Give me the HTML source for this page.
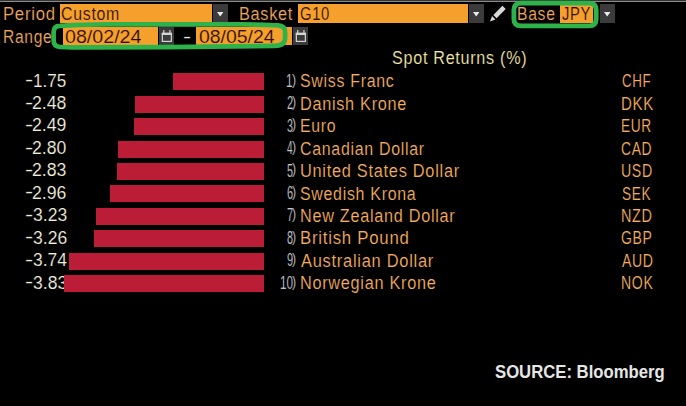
<!DOCTYPE html>
<html><head><meta charset="utf-8"><style>
html,body{margin:0;padding:0;background:#000;}
body{width:686px;height:406px;position:relative;overflow:hidden;font-family:"Liberation Sans",Arial,sans-serif;}
.t{position:absolute;white-space:nowrap;transform-origin:0 0;}
.r{position:absolute;}
</style></head><body>
<div class="r" style="left:0px;top:0px;width:686px;height:1px;background:#363636;"></div>
<div class="r" style="left:0px;top:1px;width:686px;height:1px;background:#8a8a8a;"></div>
<div class="r" style="left:60px;top:4px;width:152px;height:19.4px;background:#f5a02c;"></div>
<div class="r" style="left:213px;top:4px;width:15px;height:19.4px;background:#3b3b3b;"></div>
<svg class="r" style="left:213px;top:4px" width="15" height="19.4"><polygon points="4.0,7.9 10.4,7.9 7.2,12.4" fill="#ececec"/></svg>
<div class="r" style="left:298px;top:4px;width:170px;height:19.4px;background:#f5a02c;"></div>
<div class="r" style="left:469px;top:4px;width:15px;height:19.4px;background:#3b3b3b;"></div>
<svg class="r" style="left:469px;top:4px" width="15" height="19.4"><polygon points="4.0,7.9 10.4,7.9 7.2,12.4" fill="#ececec"/></svg>
<svg class="r" style="left:486px;top:2px" width="24" height="24"><g transform="translate(4,19.5) rotate(-45)"><polygon points="0,0 5.3,-2.4 5.3,2.4" fill="#d8d8d8"/><rect x="7" y="-2.3" width="12.9" height="4.6" fill="#d8d8d8"/></g></svg>
<div class="r" style="left:559.5px;top:5px;width:33.5px;height:18px;background:#f5a02c;"></div>
<div class="r" style="left:600px;top:4px;width:15px;height:19.4px;background:#3b3b3b;"></div>
<svg class="r" style="left:600px;top:4px" width="15" height="19.4"><polygon points="4.0,7.9 10.4,7.9 7.2,12.4" fill="#ececec"/></svg>
<div class="r" style="left:63px;top:27.1px;width:95.4px;height:18.4px;background:#f5a02c;"></div>
<div class="r" style="left:159.4px;top:27px;width:14.5px;height:18.3px;background:#3b3b3b;"></div>
<svg class="r" style="left:159.4px;top:27px" width="14.5" height="18.3"><rect x="3.3500000000000005" y="6.4" width="9" height="8" fill="none" stroke="#d4d4d4" stroke-width="1.2"/><rect x="2.7500000000000004" y="5.8" width="10.2" height="2.2" fill="#d4d4d4"/><rect x="4.15" y="3" width="1.2" height="3.4" fill="#d4d4d4"/><rect x="10.35" y="3" width="1.2" height="3.4" fill="#d4d4d4"/></svg>
<div class="r" style="left:196px;top:27.1px;width:95.8px;height:18.4px;background:#f5a02c;"></div>
<div class="r" style="left:293px;top:27px;width:14.5px;height:18.3px;background:#3b3b3b;"></div>
<svg class="r" style="left:293px;top:27px" width="14.5" height="18.3"><rect x="3.3500000000000005" y="6.4" width="9" height="8" fill="none" stroke="#d4d4d4" stroke-width="1.2"/><rect x="2.7500000000000004" y="5.8" width="10.2" height="2.2" fill="#d4d4d4"/><rect x="4.15" y="3" width="1.2" height="3.4" fill="#d4d4d4"/><rect x="10.35" y="3" width="1.2" height="3.4" fill="#d4d4d4"/></svg>
<div class="t" style="left:2.86px;top:5.46px;font-size:18px;line-height:18px;color:#f0a75c;letter-spacing:0.8px;transform:scaleX(0.927);-webkit-text-stroke:0.15px #000;paint-order:normal;">Period</div>
<div class="t" style="left:61.21px;top:5.46px;font-size:18px;line-height:18px;color:#2d0f00;letter-spacing:0.8px;transform:scaleX(0.883);-webkit-text-stroke:0.15px #f5a02c;paint-order:normal;">Custom</div>
<div class="t" style="left:239.39px;top:5.46px;font-size:18px;line-height:18px;color:#f0a75c;letter-spacing:0.8px;transform:scaleX(0.904);-webkit-text-stroke:0.15px #000;paint-order:normal;">Basket</div>
<div class="t" style="left:299.86px;top:5.46px;font-size:18px;line-height:18px;color:#2d0f00;letter-spacing:0.8px;transform:scaleX(0.824);-webkit-text-stroke:0.15px #f5a02c;paint-order:normal;">G10</div>
<div class="t" style="left:516.83px;top:5.46px;font-size:18px;line-height:18px;color:#f0a75c;letter-spacing:0.8px;transform:scaleX(0.872);-webkit-text-stroke:0.15px #000;paint-order:normal;">Base</div>
<div class="t" style="left:561.75px;top:5.46px;font-size:18px;line-height:18px;color:#2d0f00;letter-spacing:0.8px;transform:scaleX(0.817);-webkit-text-stroke:0.15px #f5a02c;paint-order:normal;">JPY</div>
<div class="t" style="left:2.64px;top:28.46px;font-size:18px;line-height:18px;color:#f0a75c;letter-spacing:0.8px;transform:scaleX(0.867);-webkit-text-stroke:0.15px #000;paint-order:normal;">Range</div>
<div class="t" style="left:65.04px;top:28.46px;font-size:18px;line-height:18px;color:#2d0f00;transform:scaleX(1.091);-webkit-text-stroke:0.15px #f5a02c;paint-order:normal;">08/02/24</div>
<div class="t" style="left:198.84px;top:28.46px;font-size:18px;line-height:18px;color:#2d0f00;transform:scaleX(1.079);-webkit-text-stroke:0.15px #f5a02c;paint-order:normal;">08/05/24</div>
<div class="t" style="left:182.91px;top:28.36px;font-size:18px;line-height:18px;color:#e8e2e0;transform:scaleX(1.364);-webkit-text-stroke:0.15px #000;paint-order:normal;">-</div>
<div class="t" style="left:392.08px;top:49.26px;font-size:18px;line-height:18px;color:#f2e7a8;letter-spacing:0.8px;transform:scaleX(0.897);-webkit-text-stroke:0.15px #000;paint-order:normal;">Spot Returns (%)</div>
<div class="t" style="left:24.81px;top:71.16px;font-size:18px;line-height:18px;color:#f2eedc;transform:scaleX(1.364);-webkit-text-stroke:0.15px #000;paint-order:normal;">-</div>
<div class="t" style="left:33.42px;top:71.56px;font-size:18px;line-height:18px;color:#f2eedc;transform:scaleX(0.951);-webkit-text-stroke:0.15px #000;paint-order:normal;">1.75</div>
<div class="t" style="left:286.32px;top:71.76px;font-size:18px;line-height:18px;color:#c2c5cd;transform:scaleX(0.654);-webkit-text-stroke:0.15px #000;paint-order:normal;">1</div>
<div class="t" style="left:291.91px;top:72.53px;font-size:14.5px;line-height:14.5px;color:#c2c5cd;transform:scaleX(0.857);-webkit-text-stroke:0.15px #000;paint-order:normal;">)</div>
<div class="t" style="left:300.39px;top:72.26px;font-size:18px;line-height:18px;color:#f6ae5e;letter-spacing:0.8px;transform:scaleX(0.885);-webkit-text-stroke:0.15px #000;paint-order:normal;">Swiss Franc</div>
<div class="t" style="left:621.83px;top:72.26px;font-size:18px;line-height:18px;color:#f6ae5e;letter-spacing:0.8px;transform:scaleX(0.743);-webkit-text-stroke:0.15px #000;paint-order:normal;">CHF</div>
<div class="t" style="left:24.81px;top:93.61px;font-size:18px;line-height:18px;color:#f2eedc;transform:scaleX(1.364);-webkit-text-stroke:0.15px #000;paint-order:normal;">-</div>
<div class="t" style="left:32.42px;top:94.01px;font-size:18px;line-height:18px;color:#f2eedc;transform:scaleX(0.981);-webkit-text-stroke:0.15px #000;paint-order:normal;">2.48</div>
<div class="t" style="left:286.64px;top:94.21px;font-size:18px;line-height:18px;color:#c2c5cd;transform:scaleX(0.622);-webkit-text-stroke:0.15px #000;paint-order:normal;">2</div>
<div class="t" style="left:291.91px;top:94.98px;font-size:14.5px;line-height:14.5px;color:#c2c5cd;transform:scaleX(0.857);-webkit-text-stroke:0.15px #000;paint-order:normal;">)</div>
<div class="t" style="left:299.79px;top:94.71px;font-size:18px;line-height:18px;color:#f6ae5e;letter-spacing:0.8px;transform:scaleX(0.902);-webkit-text-stroke:0.15px #000;paint-order:normal;">Danish Krone</div>
<div class="t" style="left:621.29px;top:94.71px;font-size:18px;line-height:18px;color:#f6ae5e;letter-spacing:0.8px;transform:scaleX(0.834);-webkit-text-stroke:0.15px #000;paint-order:normal;">DKK</div>
<div class="t" style="left:24.81px;top:116.06px;font-size:18px;line-height:18px;color:#f2eedc;transform:scaleX(1.364);-webkit-text-stroke:0.15px #000;paint-order:normal;">-</div>
<div class="t" style="left:32.41px;top:116.46px;font-size:18px;line-height:18px;color:#f2eedc;transform:scaleX(0.983);-webkit-text-stroke:0.15px #000;paint-order:normal;">2.49</div>
<div class="t" style="left:286.78px;top:116.66px;font-size:18px;line-height:18px;color:#c2c5cd;transform:scaleX(0.596);-webkit-text-stroke:0.15px #000;paint-order:normal;">3</div>
<div class="t" style="left:291.91px;top:117.43px;font-size:14.5px;line-height:14.5px;color:#c2c5cd;transform:scaleX(0.857);-webkit-text-stroke:0.15px #000;paint-order:normal;">)</div>
<div class="t" style="left:299.83px;top:117.16px;font-size:18px;line-height:18px;color:#f6ae5e;letter-spacing:0.8px;transform:scaleX(0.877);-webkit-text-stroke:0.15px #000;paint-order:normal;">Euro</div>
<div class="t" style="left:621.40px;top:117.16px;font-size:18px;line-height:18px;color:#f6ae5e;letter-spacing:0.8px;transform:scaleX(0.759);-webkit-text-stroke:0.15px #000;paint-order:normal;">EUR</div>
<div class="t" style="left:24.81px;top:138.51px;font-size:18px;line-height:18px;color:#f2eedc;transform:scaleX(1.364);-webkit-text-stroke:0.15px #000;paint-order:normal;">-</div>
<div class="t" style="left:32.42px;top:138.91px;font-size:18px;line-height:18px;color:#f2eedc;transform:scaleX(0.979);-webkit-text-stroke:0.15px #000;paint-order:normal;">2.80</div>
<div class="t" style="left:286.98px;top:139.11px;font-size:18px;line-height:18px;color:#c2c5cd;transform:scaleX(0.560);-webkit-text-stroke:0.15px #000;paint-order:normal;">4</div>
<div class="t" style="left:291.91px;top:139.88px;font-size:14.5px;line-height:14.5px;color:#c2c5cd;transform:scaleX(0.857);-webkit-text-stroke:0.15px #000;paint-order:normal;">)</div>
<div class="t" style="left:300.30px;top:139.61px;font-size:18px;line-height:18px;color:#f6ae5e;letter-spacing:0.8px;transform:scaleX(0.885);-webkit-text-stroke:0.15px #000;paint-order:normal;">Canadian Dollar</div>
<div class="t" style="left:620.91px;top:139.61px;font-size:18px;line-height:18px;color:#f6ae5e;letter-spacing:0.8px;transform:scaleX(0.771);-webkit-text-stroke:0.15px #000;paint-order:normal;">CAD</div>
<div class="t" style="left:24.81px;top:160.96px;font-size:18px;line-height:18px;color:#f2eedc;transform:scaleX(1.364);-webkit-text-stroke:0.15px #000;paint-order:normal;">-</div>
<div class="t" style="left:32.42px;top:161.36px;font-size:18px;line-height:18px;color:#f2eedc;transform:scaleX(0.981);-webkit-text-stroke:0.15px #000;paint-order:normal;">2.83</div>
<div class="t" style="left:286.78px;top:161.56px;font-size:18px;line-height:18px;color:#c2c5cd;transform:scaleX(0.596);-webkit-text-stroke:0.15px #000;paint-order:normal;">5</div>
<div class="t" style="left:291.91px;top:162.33px;font-size:14.5px;line-height:14.5px;color:#c2c5cd;transform:scaleX(0.857);-webkit-text-stroke:0.15px #000;paint-order:normal;">)</div>
<div class="t" style="left:299.83px;top:162.06px;font-size:18px;line-height:18px;color:#f6ae5e;letter-spacing:0.8px;transform:scaleX(0.908);-webkit-text-stroke:0.15px #000;paint-order:normal;">United States Dollar</div>
<div class="t" style="left:621.40px;top:162.06px;font-size:18px;line-height:18px;color:#f6ae5e;letter-spacing:0.8px;transform:scaleX(0.787);-webkit-text-stroke:0.15px #000;paint-order:normal;">USD</div>
<div class="t" style="left:24.81px;top:183.41px;font-size:18px;line-height:18px;color:#f2eedc;transform:scaleX(1.364);-webkit-text-stroke:0.15px #000;paint-order:normal;">-</div>
<div class="t" style="left:32.42px;top:183.81px;font-size:18px;line-height:18px;color:#f2eedc;transform:scaleX(0.981);-webkit-text-stroke:0.15px #000;paint-order:normal;">2.96</div>
<div class="t" style="left:286.65px;top:184.01px;font-size:18px;line-height:18px;color:#c2c5cd;transform:scaleX(0.611);-webkit-text-stroke:0.15px #000;paint-order:normal;">6</div>
<div class="t" style="left:291.91px;top:184.78px;font-size:14.5px;line-height:14.5px;color:#c2c5cd;transform:scaleX(0.857);-webkit-text-stroke:0.15px #000;paint-order:normal;">)</div>
<div class="t" style="left:300.39px;top:184.51px;font-size:18px;line-height:18px;color:#f6ae5e;letter-spacing:0.8px;transform:scaleX(0.885);-webkit-text-stroke:0.15px #000;paint-order:normal;">Swedish Krona</div>
<div class="t" style="left:621.89px;top:184.51px;font-size:18px;line-height:18px;color:#f6ae5e;letter-spacing:0.8px;transform:scaleX(0.757);-webkit-text-stroke:0.15px #000;paint-order:normal;">SEK</div>
<div class="t" style="left:24.81px;top:205.86px;font-size:18px;line-height:18px;color:#f2eedc;transform:scaleX(1.364);-webkit-text-stroke:0.15px #000;paint-order:normal;">-</div>
<div class="t" style="left:32.62px;top:206.26px;font-size:18px;line-height:18px;color:#f2eedc;transform:scaleX(0.975);-webkit-text-stroke:0.15px #000;paint-order:normal;">3.23</div>
<div class="t" style="left:286.64px;top:206.46px;font-size:18px;line-height:18px;color:#c2c5cd;transform:scaleX(0.622);-webkit-text-stroke:0.15px #000;paint-order:normal;">7</div>
<div class="t" style="left:291.91px;top:207.23px;font-size:14.5px;line-height:14.5px;color:#c2c5cd;transform:scaleX(0.857);-webkit-text-stroke:0.15px #000;paint-order:normal;">)</div>
<div class="t" style="left:299.79px;top:206.96px;font-size:18px;line-height:18px;color:#f6ae5e;letter-spacing:0.8px;transform:scaleX(0.901);-webkit-text-stroke:0.15px #000;paint-order:normal;">New Zealand Dollar</div>
<div class="t" style="left:621.34px;top:206.96px;font-size:18px;line-height:18px;color:#f6ae5e;letter-spacing:0.8px;transform:scaleX(0.802);-webkit-text-stroke:0.15px #000;paint-order:normal;">NZD</div>
<div class="t" style="left:24.81px;top:228.31px;font-size:18px;line-height:18px;color:#f2eedc;transform:scaleX(1.364);-webkit-text-stroke:0.15px #000;paint-order:normal;">-</div>
<div class="t" style="left:32.62px;top:228.71px;font-size:18px;line-height:18px;color:#f2eedc;transform:scaleX(0.975);-webkit-text-stroke:0.15px #000;paint-order:normal;">3.26</div>
<div class="t" style="left:286.75px;top:228.91px;font-size:18px;line-height:18px;color:#c2c5cd;transform:scaleX(0.600);-webkit-text-stroke:0.15px #000;paint-order:normal;">8</div>
<div class="t" style="left:291.91px;top:229.68px;font-size:14.5px;line-height:14.5px;color:#c2c5cd;transform:scaleX(0.857);-webkit-text-stroke:0.15px #000;paint-order:normal;">)</div>
<div class="t" style="left:299.75px;top:229.41px;font-size:18px;line-height:18px;color:#f6ae5e;letter-spacing:0.8px;transform:scaleX(0.933);-webkit-text-stroke:0.15px #000;paint-order:normal;">British Pound</div>
<div class="t" style="left:620.90px;top:229.41px;font-size:18px;line-height:18px;color:#f6ae5e;letter-spacing:0.8px;transform:scaleX(0.779);-webkit-text-stroke:0.15px #000;paint-order:normal;">GBP</div>
<div class="t" style="left:24.81px;top:250.76px;font-size:18px;line-height:18px;color:#f2eedc;transform:scaleX(1.364);-webkit-text-stroke:0.15px #000;paint-order:normal;">-</div>
<div class="t" style="left:32.62px;top:251.16px;font-size:18px;line-height:18px;color:#f2eedc;transform:scaleX(0.967);-webkit-text-stroke:0.15px #000;paint-order:normal;">3.74</div>
<div class="t" style="left:286.68px;top:251.36px;font-size:18px;line-height:18px;color:#c2c5cd;transform:scaleX(0.614);-webkit-text-stroke:0.15px #000;paint-order:normal;">9</div>
<div class="t" style="left:291.91px;top:252.13px;font-size:14.5px;line-height:14.5px;color:#c2c5cd;transform:scaleX(0.857);-webkit-text-stroke:0.15px #000;paint-order:normal;">)</div>
<div class="t" style="left:301.05px;top:251.86px;font-size:18px;line-height:18px;color:#f6ae5e;letter-spacing:0.8px;transform:scaleX(0.913);-webkit-text-stroke:0.15px #000;paint-order:normal;">Australian Dollar</div>
<div class="t" style="left:621.56px;top:251.86px;font-size:18px;line-height:18px;color:#f6ae5e;letter-spacing:0.8px;transform:scaleX(0.783);-webkit-text-stroke:0.15px #000;paint-order:normal;">AUD</div>
<div class="t" style="left:24.81px;top:273.21px;font-size:18px;line-height:18px;color:#f2eedc;transform:scaleX(1.364);-webkit-text-stroke:0.15px #000;paint-order:normal;">-</div>
<div class="t" style="left:32.62px;top:273.61px;font-size:18px;line-height:18px;color:#f2eedc;transform:scaleX(0.975);-webkit-text-stroke:0.15px #000;paint-order:normal;">3.83</div>
<div class="t" style="left:279.72px;top:273.81px;font-size:18px;line-height:18px;color:#c2c5cd;transform:scaleX(0.652);-webkit-text-stroke:0.15px #000;paint-order:normal;">10</div>
<div class="t" style="left:291.91px;top:274.58px;font-size:14.5px;line-height:14.5px;color:#c2c5cd;transform:scaleX(0.857);-webkit-text-stroke:0.15px #000;paint-order:normal;">)</div>
<div class="t" style="left:299.79px;top:274.31px;font-size:18px;line-height:18px;color:#f6ae5e;letter-spacing:0.8px;transform:scaleX(0.903);-webkit-text-stroke:0.15px #000;paint-order:normal;">Norwegian Krone</div>
<div class="t" style="left:621.36px;top:274.31px;font-size:18px;line-height:18px;color:#f6ae5e;letter-spacing:0.8px;transform:scaleX(0.783);-webkit-text-stroke:0.15px #000;paint-order:normal;">NOK</div>
<div class="t" style="left:494.74px;top:363.06px;font-size:18px;line-height:18px;color:#e6e6e6;transform:scaleX(0.927);font-weight:bold;">SOURCE: Bloomberg</div>
<div class="r" style="left:173.1px;top:73.2px;width:91.4px;height:17px;background:#bb1d36;"></div>
<div class="r" style="left:134.9px;top:95.7px;width:129.6px;height:17px;background:#bb1d36;"></div>
<div class="r" style="left:134.4px;top:118.1px;width:130.1px;height:17px;background:#bb1d36;"></div>
<div class="r" style="left:118.2px;top:140.6px;width:146.3px;height:17px;background:#bb1d36;"></div>
<div class="r" style="left:116.6px;top:163.0px;width:147.9px;height:17px;background:#bb1d36;"></div>
<div class="r" style="left:109.8px;top:185.4px;width:154.7px;height:17px;background:#bb1d36;"></div>
<div class="r" style="left:95.7px;top:207.9px;width:168.8px;height:17px;background:#bb1d36;"></div>
<div class="r" style="left:94.2px;top:230.4px;width:170.3px;height:17px;background:#bb1d36;"></div>
<div class="r" style="left:69.1px;top:252.8px;width:195.4px;height:17px;background:#bb1d36;"></div>
<div class="r" style="left:64.4px;top:275.2px;width:200.1px;height:17px;background:#bb1d36;"></div>
<svg class="r" style="left:0;top:0" width="686" height="60"><g fill="none" stroke="#2db34a" stroke-width="4.8"><path d="M521,3.1 L589,3.1 C594,3.1 596.2,5.5 596.2,10 L596.2,19 C596.2,23.6 594,25.9 589,25.9 L521,25.9 C516,25.9 513.9,23.6 513.9,19 L513.9,10 C513.9,5.5 516,3.1 521,3.1 Z"/><path stroke-width="4.7" d="M60,25.8 C75,25 95,24.3 110,24.3 L240,24.4 C260,24.6 272,25.2 278,25.4 C283,25.6 285.1,28 285.1,32 L285.1,38 C285.1,43 282,45.7 275,45.9 C250,46.5 120,47.6 72,47.4 L60,47 C55.5,46.8 53.6,44 53.6,40 L53.6,32 C53.6,28 55.5,25.9 60,25.8 Z"/></g></svg>
</body></html>
